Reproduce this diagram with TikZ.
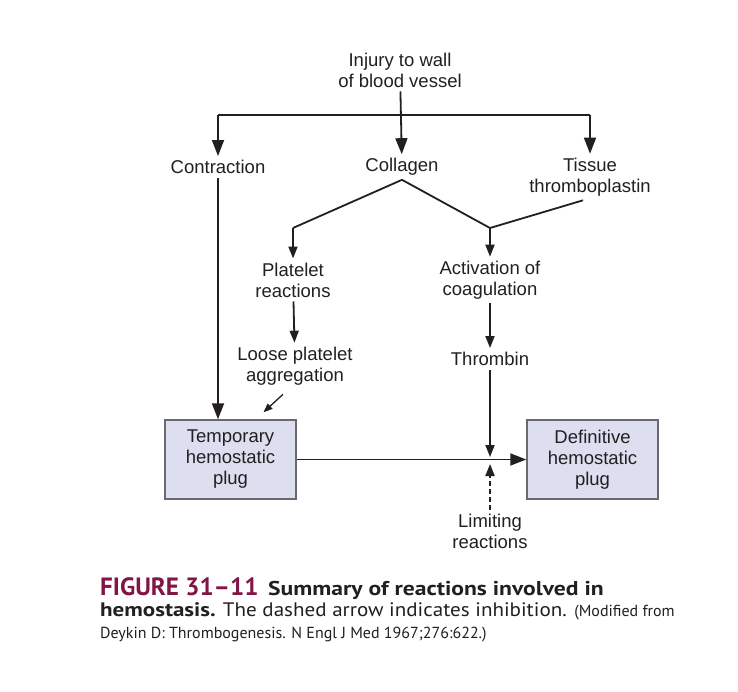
\documentclass[tikz,border=0pt]{standalone}
\usepackage{fontspec}
\setmainfont{Liberation Sans}
\newfontfamily\capfont{PT Sans}
\newfontfamily\capwide[FakeStretch=1.08]{PT Sans}
\newfontfamily\capbold[FakeStretch=1.18]{PT Sans}
\usetikzlibrary{arrows.meta,calc}
\definecolor{ink}{RGB}{35,31,32}
\definecolor{boxfill}{RGB}{221,222,240}
\definecolor{boxline}{RGB}{105,105,110}
\definecolor{figred}{RGB}{130,20,70}
\begin{document}
\begin{tikzpicture}[x=1pt,y=-1pt,
  lbl/.style={inner sep=4pt,align=center,text=ink,font=\fontsize{18.5}{21}\selectfont},
  plug/.style={lbl,draw=boxline,fill=boxfill,line width=1.5pt,minimum width=131pt,minimum height=79pt},
  link/.style={draw=ink,line width=1.8pt},
  big/.style={link,-{Triangle[length=16pt,width=12pt]}},
  small/.style={link,-{Triangle[length=12pt,width=9pt]}},
  tiny/.style={link,line width=1.3pt,-{Triangle[length=9pt,width=7pt]}},
  inhib/.style={small,dash pattern=on 5pt off 3pt},
  captxt/.style={inner sep=0pt,anchor=base west,text=ink}]
\path[use as bounding box] (0,0) rectangle (738,692);
\path[fill=white] (0,0) rectangle (738,692);
% upper part
\node[lbl] (injury) at (400,70) {Injury to wall\\of blood vessel};
\node[lbl] (contraction) at (218,167) {Contraction};
\node[lbl] (collagen) at (402,167) {Collagen};
\node[lbl] (tissue) at (590,177) {Tissue\\thromboplastin};
\coordinate (split) at (402,115);
\coordinate (pfork) at (293,228);
\coordinate (cfork) at (490,228);
\node[lbl] (platelet) at (293,280) {Platelet\\reactions};
\node[lbl] (activation) at (490,280) {Activation of\\coagulation};
\node[lbl] (loose) at (295,366) {Loose platelet\\aggregation};
\node[lbl] (thrombin) at (490,359) {Thrombin};
% plugs
\node[plug] (temp) at (230.5,459.5) {Temporary\\hemostatic\\plug};
\node[plug] (defin) at (592.5,459.5) {Definitive\\hemostatic\\plug};
\coordinate (meet) at (490,460);
\node[lbl] (limiting) at (490,531) {Limiting\\reactions};
% connectors
\draw[big] (injury) -- (collagen);
\draw[link] (contraction |- split) -- (tissue |- split);
\draw[big] (contraction |- split) -- (contraction);
\draw[big] (tissue |- split) -- (tissue);
\draw[link] (collagen.south) -- (pfork);
\draw[link] (collagen.south) -- (cfork);
\draw[link] ($(tissue.south)+(-7,0)$) -- (cfork);
\draw[small] (pfork) -- (platelet);
\draw[small] (cfork) -- (activation);
\draw[small] (platelet) -- (loose);
\draw[small] (activation) -- (thrombin);
\draw[tiny] ($(loose.south)+(-12,5)$) -- ($(temp.north)+(33,-7)$);
\draw[big] (contraction) -- (contraction |- temp.north);
\draw[big] (temp) -- (defin);
\draw[small] (thrombin) -- ($(meet)+(0,-3)$);
\draw[inhib] (limiting) -- ($(meet)+(0,4)$);
% caption
\node[captxt] (figtag) at (100,595) {\capfont\bfseries\fontsize{25}{30}\selectfont\color{figred}FIGURE 31–11};
\node[captxt] (captitle) at (268,595) {\capbold\bfseries\fontsize{20}{24}\selectfont Summary of reactions involved in};
\node[captxt] (capline) at (100,616) {\fontsize{19.5}{24}\selectfont{\capbold\bfseries hemostasis.} \capwide The dashed arrow indicates inhibition. {\capfont\fontsize{16}{20}\selectfont(Modified from}};
\node[captxt] (capsrc) at (100,638) {\capfont\fontsize{16}{20}\selectfont Deykin D: Thrombogenesis. N Engl J Med 1967;276:622.)};
\end{tikzpicture}
\end{document}
